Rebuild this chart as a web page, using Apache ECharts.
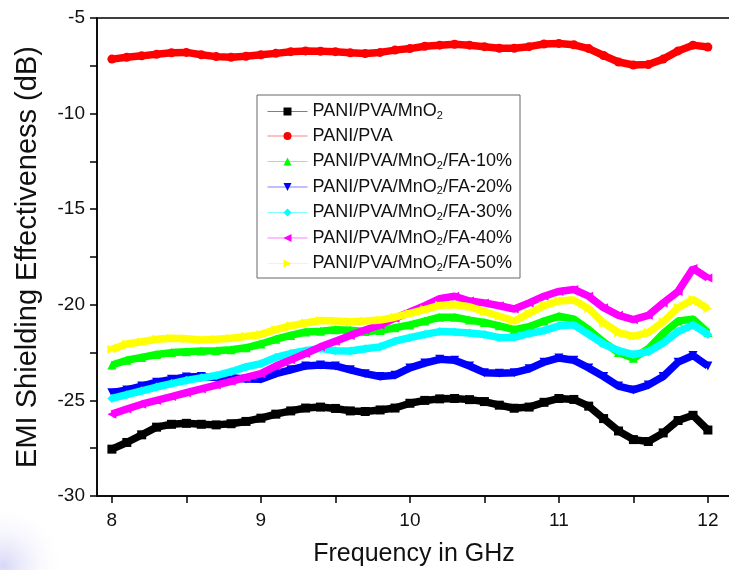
<!DOCTYPE html>
<html>
<head>
<meta charset="utf-8">
<script src="https://cdn.jsdelivr.net/npm/echarts@6/dist/echarts.min.js"></script>
<style>
html,body{margin:0;padding:0;background:#fff;}
#chart{width:729px;height:570px;}
</style>
</head>
<body>
<div id="chart"></div>
<script>
// Frequency (GHz)
const freq = [8.0,8.1,8.2,8.3,8.4,8.5,8.6,8.7,8.8,8.9,9.0,9.1,9.2,9.3,9.4,9.5,9.6,9.7,9.8,9.9,10.0,10.1,10.2,10.3,10.4,10.5,10.6,10.7,10.8,10.9,11.0,11.1,11.2,11.3,11.4,11.5,11.6,11.7,11.8,11.9,12.0];

const seriesNames = ['PANI/PVA/MnO2','PANI/PVA','PANI/PVA/MnO2/FA-10%','PANI/PVA/MnO2/FA-20%','PANI/PVA/MnO2/FA-30%','PANI/PVA/MnO2/FA-40%','PANI/PVA/MnO2/FA-50%'];

const pvaMnO2 = [-27.55,-27.2,-26.8,-26.4,-26.25,-26.2,-26.25,-26.28,-26.22,-26.1,-25.93,-25.72,-25.55,-25.4,-25.35,-25.42,-25.55,-25.58,-25.5,-25.4,-25.15,-25.0,-24.92,-24.9,-24.96,-25.06,-25.25,-25.41,-25.35,-25.1,-24.9,-24.95,-25.3,-25.95,-26.6,-27.05,-27.15,-26.7,-26.05,-25.78,-26.55];
const pva = [-7.15,-7.05,-6.98,-6.9,-6.82,-6.8,-6.92,-7.02,-7.05,-7.0,-6.92,-6.85,-6.76,-6.72,-6.74,-6.76,-6.82,-6.86,-6.8,-6.68,-6.6,-6.48,-6.42,-6.37,-6.42,-6.5,-6.58,-6.58,-6.5,-6.36,-6.33,-6.4,-6.6,-6.96,-7.3,-7.46,-7.43,-7.15,-6.72,-6.42,-6.52];
const fa10 = [-23.15,-22.9,-22.75,-22.6,-22.5,-22.45,-22.42,-22.4,-22.35,-22.25,-22.05,-21.8,-21.6,-21.42,-21.38,-21.3,-21.33,-21.4,-21.35,-21.2,-21.05,-20.85,-20.65,-20.65,-20.8,-20.92,-21.1,-21.3,-21.15,-20.85,-20.6,-20.75,-21.3,-21.95,-22.5,-22.8,-22.3,-21.5,-20.85,-20.75,-21.45];
const fa20 = [-24.6,-24.45,-24.25,-24.05,-23.9,-23.78,-23.75,-23.8,-23.82,-23.88,-23.9,-23.6,-23.4,-23.2,-23.15,-23.2,-23.4,-23.6,-23.75,-23.68,-23.3,-23.05,-22.85,-22.9,-23.2,-23.55,-23.58,-23.55,-23.35,-23.0,-22.78,-22.9,-23.3,-23.75,-24.25,-24.45,-24.2,-23.75,-23.0,-22.65,-23.2];
const fa30 = [-24.9,-24.7,-24.5,-24.3,-24.12,-23.95,-23.82,-23.7,-23.5,-23.25,-23.08,-22.75,-22.55,-22.4,-22.28,-22.4,-22.42,-22.3,-22.2,-21.9,-21.72,-21.55,-21.4,-21.42,-21.47,-21.55,-21.72,-21.7,-21.5,-21.35,-21.1,-21.05,-21.55,-22.05,-22.4,-22.6,-22.45,-22.0,-21.4,-21.05,-21.55];
const fa40 = [-25.72,-25.45,-25.2,-25.0,-24.8,-24.6,-24.4,-24.2,-24.0,-23.8,-23.6,-23.2,-22.88,-22.55,-22.2,-21.9,-21.6,-21.32,-21.05,-20.7,-20.38,-20.05,-19.68,-19.55,-19.8,-19.9,-20.05,-20.22,-19.9,-19.55,-19.3,-19.2,-19.55,-20.15,-20.55,-20.78,-20.55,-19.9,-19.3,-18.1,-18.6];
const fa50 = [-22.33,-22.05,-21.93,-21.8,-21.75,-21.78,-21.84,-21.8,-21.75,-21.65,-21.55,-21.3,-21.1,-20.95,-20.82,-20.85,-20.88,-20.85,-20.8,-20.65,-20.45,-20.25,-20.03,-20.0,-20.1,-20.35,-20.6,-20.85,-20.45,-20.05,-19.8,-19.75,-20.2,-20.95,-21.45,-21.65,-21.45,-20.9,-20.15,-19.72,-20.2];

const xTickLabels = [8, 9, 10, 11, 12];
const xTickMarks = [8, 8.5, 9, 9.5, 10, 10.5, 11, 11.5, 12];

const allValues = [pvaMnO2, pva, fa10, fa20, fa30, fa40, fa50];
const colors = ['#000000', '#ff0000', '#00ff00', '#0000ff', '#00ffff', '#ff00ff', '#ffff00'];
const symbols = ['rect', 'circle', 'triangle', 'triangle', 'diamond', 'triangle', 'triangle'];
const rotates = [0, 0, 0, 180, 0, 90, -90];

const FONT = 'Liberation Sans, Arial, sans-serif';

const chart = echarts.init(document.getElementById('chart'), null, {renderer: 'canvas'});

const series = allValues.map((vals, k) => ({
  name: seriesNames[k],
  type: 'line',
  data: freq.map((f, i) => [f, vals[i]]),
  color: colors[k],
  symbol: symbols[k],
  symbolRotate: rotates[k],
  symbolSize: 9,
  showSymbol: true,
  showAllSymbol: true,
  lineStyle: {width: 7.5, color: colors[k]},
  itemStyle: {color: colors[k]},
  animation: false,
  z: 2 + k
}));

function legendFmt(name) {
  return name.replace('MnO2', 'MnO{sub|2}');
}

chart.setOption({
  backgroundColor: '#ffffff',
  animation: false,
  graphic: [{
    type: 'rect',
    left: 0, top: 480,
    shape: {width: 70, height: 90},
    style: {
      fill: new echarts.graphic.RadialGradient(0.05, 0.95, 0.9, [
        {offset: 0, color: 'rgba(205,205,245,0.8)'},
        {offset: 1, color: 'rgba(255,255,255,0)'}
      ])
    },
    z: -10
  }],
  grid: {
    left: 97, right: -2, top: 18, bottom: 74,
    outerBoundsMode: 'none',
    containLabel: false,
    show: true, borderColor: '#000', borderWidth: 1.5, backgroundColor: 'transparent'
  },
  xAxis: {
    type: 'value',
    min: 7.9, max: 12.155,
    name: 'Frequency in GHz',
    nameLocation: 'middle',
    nameGap: 46,
    nameTextStyle: {fontFamily: FONT, fontSize: 25, color: '#111'},
    axisLine: {show: true, lineStyle: {color: '#000', width: 1.5}},
    axisTick: {show: true, inside: false, length: 7, customValues: xTickMarks, lineStyle: {color: '#000', width: 1.5}},
    axisLabel: {fontFamily: FONT, fontSize: 19, color: '#111', margin: 15, customValues: xTickLabels},
    splitLine: {show: false}
  },
  yAxis: {
    type: 'value',
    min: -30, max: -5, interval: 5,
    name: 'EMI Shielding Effectiveness (dB)',
    nameLocation: 'middle',
    nameGap: 55,
    nameRotate: 90,
    nameTextStyle: {fontFamily: FONT, fontSize: 29, color: '#111'},
    axisLine: {show: true, lineStyle: {color: '#000', width: 1.5}},
    axisTick: {show: true, inside: false, length: 7, lineStyle: {color: '#000', width: 1.5}},
    minorTick: {show: true, splitNumber: 2, length: 7, lineStyle: {color: '#000', width: 1.5}},
    axisLabel: {fontFamily: FONT, fontSize: 19, color: '#111', margin: 12},
    splitLine: {show: false}
  },
  legend: {
    orient: 'vertical',
    left: 257, top: 95,
    padding: [6, 8, 5, 10],
    itemGap: 5.5,
    itemWidth: 40, itemHeight: 10,
    backgroundColor: '#fff',
    borderColor: '#666', borderWidth: 1,
    lineStyle: {width: 1, opacity: 0.5},
    data: seriesNames,
    formatter: legendFmt,
    textStyle: {
      fontFamily: FONT, fontSize: 18, color: '#111', lineHeight: 19,
      rich: {
        sub: {fontSize: 11, fontFamily: FONT, color: '#111', lineHeight: 19, verticalAlign: 'bottom', padding: [9, 0, 0, 0]}
      }
    }
  },
  series: series
});
</script>
</body>
</html>
